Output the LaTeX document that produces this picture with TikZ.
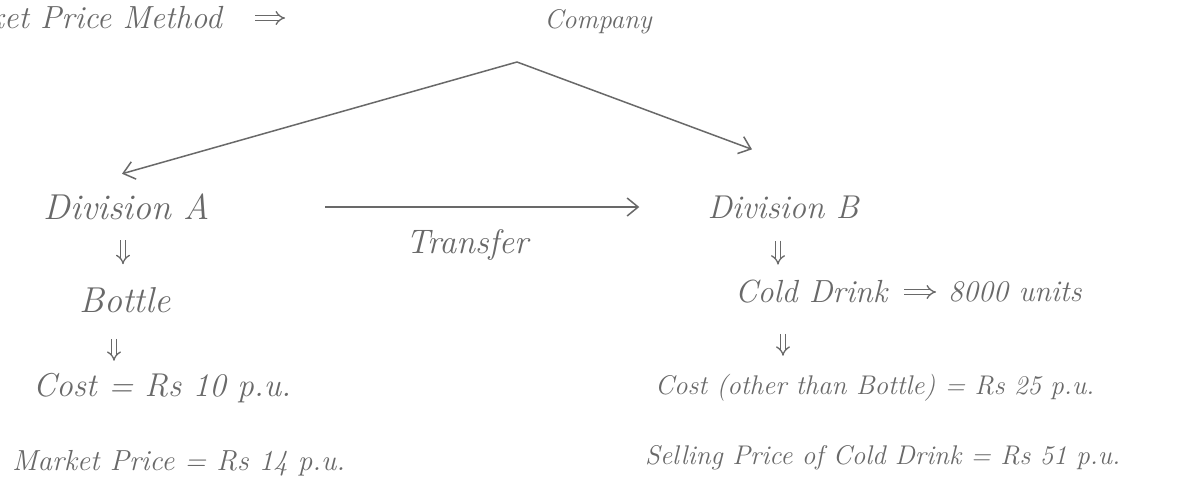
\documentclass[tikz,border=0pt]{standalone}
\usetikzlibrary{arrows.meta,calc}
\definecolor{ink}{RGB}{105,105,105}
\begin{document}
\begin{tikzpicture}[x=1pt,y=-1pt,
  hand/.style={inner sep=0pt, text=ink, font=\fontsize{#1}{#1}\selectfont\itshape},
  hand/.default=30,
  link/.style={draw=ink, line width=1.5pt, -{Straight Barb[length=11pt,width=18pt]}},
  implies/.style={draw=ink, line width=1.3pt, double, double distance=3.5pt, -{Implies}}]
\clip (0,0) rectangle (1178,493);
\fill[white] (0,0) rectangle (1178,493);

% heading, partly cut off at the left edge
\node[hand=32, anchor=east] (title) at (222,18) {Market Price Method};
\coordinate (titleend) at (285,18);
\draw[implies] ($(title.east)+(33,0)$) -- (titleend);

% top of the hierarchy
\node[hand=27] (company) at (598,22) {Company};
\coordinate (apex) at (517,62);

% Division A column
\node[hand=36] (divA) at (127,207) {Division A};
\node[hand=36] (bottle) at (125,300) {Bottle};
\node[hand=33, anchor=west] (costA) at (33,388) {Cost = Rs 10 p.u.};
\node[hand=29, anchor=west] (market) at (12,463) {Market Price = Rs 14 p.u.};

% Division B column
\node[hand=33] (divB) at (783,207) {Division B};
\node[hand=32, anchor=west] (cold) at (735,292) {Cold Drink};
\node[hand=30, anchor=west] (units) at (948,292) {8000 units};
\node[hand=27, anchor=west] (costB) at (655,388) {Cost (other than Bottle) = Rs 25 p.u.};
\node[hand=27, anchor=west] (sell) at (645,458) {Selling Price of Cold Drink = Rs 51 p.u.};

% transfer between the divisions
\node[hand=34] (transfer) at (467,245) {Transfer};

% connectors
\draw[link] (apex) -- ($(divA.north)+(-5,-20)$);
\draw[link] (apex) -- ($(divB.north)+(-31,-46)$);
\draw[link] ($(divA.east)+(115,0)$) -- ($(divB.west)+(-68,0)$);

\draw[implies] ($(divA.south)+(-4,20)$) -- ($(divA.south)+(-4,44)$);
\draw[implies] ($(bottle.south)+(-11,26)$) -- ($(bottle.south)+(-11,48)$);
\draw[implies] ($(divB.south)+(-5,22)$) -- ($(divB.south)+(-5,46)$);
\draw[implies] ($(units.west)+(-44,0)$) -- ($(units.west)+(-12,0)$);
\draw[implies] ($(cold.south west)+(48,30)$) -- ($(cold.south west)+(48,52)$);
\end{tikzpicture}
\end{document}
